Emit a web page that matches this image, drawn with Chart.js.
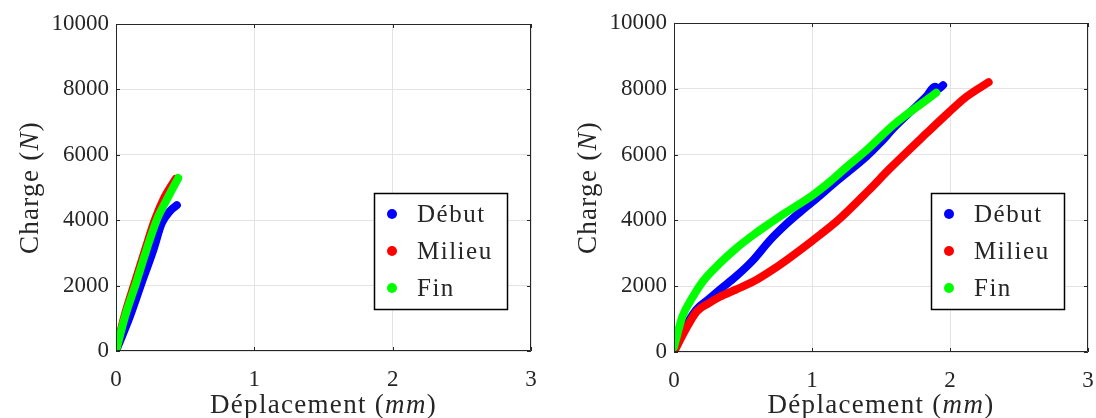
<!DOCTYPE html>
<html>
<head>
<meta charset="utf-8">
<script src="https://cdn.jsdelivr.net/npm/chart.js@4.4.0/dist/chart.umd.min.js"></script>
<style>
  body { margin: 0; background: #fff; }
  #wrap { position: relative; width: 1096px; height: 418px; }
  canvas { position: absolute; top: 0; }
</style>
</head>
<body>
<div id="wrap">
  <canvas id="gauche" width="548" height="418" style="left:0"></canvas>
  <canvas id="droite" width="548" height="418" style="left:548px"></canvas>
</div>
<script>
// --- données ---
const seriesNames = ['Début', 'Milieu', 'Fin'];
const seriesColors = ['#0000ff', '#ff0000', '#00ff00'];
const seriesOrder = [2, 1, 0]; // Fin dessinée au-dessus
const xTicks = [0, 1, 2, 3];
const yTicks = [0, 2000, 4000, 6000, 8000, 10000];

// essai de gauche
const debutX1  = [0, 0.10, 0.185, 0.27, 0.33, 0.39, 0.44];
const debutY1  = [0, 1050, 2080, 3090, 3900, 4280, 4460];
const milieuX1 = [0, 0.06, 0.135, 0.21, 0.28, 0.35, 0.43];
const milieuY1 = [0, 1050, 2080, 3090, 4000, 4700, 5260];
const finX1    = [0, 0.065, 0.145, 0.22, 0.294, 0.366, 0.45];
const finY1    = [0, 1050, 2080, 3090, 4000, 4620, 5290];

// essai de droite
const debutX2  = [0, 0.06, 0.164, 0.25, 0.333, 0.45, 0.575, 0.696, 0.817, 0.913, 1.002, 1.18, 1.396, 1.50, 1.59, 1.70, 1.83, 1.89, 1.92, 1.95];
const debutY2  = [50, 600, 1300, 1600, 1900, 2300, 2800, 3400, 3900, 4250, 4560, 5200, 5950, 6380, 6800, 7250, 7770, 8060, 8010, 8110];
const milieuX2 = [0, 0.08, 0.164, 0.25, 0.333, 0.45, 0.575, 0.696, 0.817, 1.002, 1.19, 1.408, 1.565, 1.83, 1.99, 2.12, 2.28];
const milieuY2 = [0, 650, 1230, 1480, 1680, 1900, 2140, 2450, 2800, 3380, 4010, 4900, 5580, 6650, 7280, 7760, 8200];
const finX2    = [0, 0.06, 0.14, 0.21, 0.333, 0.45, 0.575, 0.70, 0.817, 1.002, 1.13, 1.25, 1.396, 1.59, 1.83, 1.90];
const finY2    = [150, 1070, 1700, 2150, 2700, 3150, 3560, 3930, 4260, 4760, 5180, 5620, 6140, 6900, 7660, 7880];

const axisColor = '#262626';
const serif = '"Liberation Serif", "DejaVu Serif", serif';

function toPoints(xs, ys) {
  return xs.map((x, i) => ({ x: x, y: ys[i] }));
}

function makeDatasets(sets) {
  return sets.map((s, i) => ({
    label: seriesNames[i],
    data: toPoints(s[0], s[1]),
    order: seriesOrder[i],
    showLine: true,
    borderColor: seriesColors[i],
    backgroundColor: seriesColors[i],
    borderWidth: 8,
    borderCapStyle: 'round',
    borderJoinStyle: 'round',
    pointRadius: 0,
    cubicInterpolationMode: 'monotone'
  }));
}

function mixedText(c, parts, size) {
  let w = 0;
  parts.forEach(p => { c.font = p[1] + ' ' + size + 'px ' + serif; w += c.measureText(p[0]).width; });
  return w;
}

// titres, cadre, graduations intérieures et légende
const deco = {
  id: 'deco',
  afterDraw(chart) {
    const c = chart.ctx, a = chart.chartArea;
    const xs = chart.scales.x, ys = chart.scales.y;
    c.save();
    c.strokeStyle = axisColor;
    c.lineWidth = 1;
    c.beginPath();
    c.rect(a.left + 0.5, a.top + 0.5, a.right - a.left - 1, a.bottom - a.top - 1);
    c.stroke();
    c.beginPath();
    xTicks.forEach(v => {
      const p = Math.round(xs.getPixelForValue(v)) + 0.5;
      c.moveTo(p, a.bottom); c.lineTo(p, a.bottom - 4);
      c.moveTo(p, a.top); c.lineTo(p, a.top + 4);
    });
    yTicks.forEach(v => {
      const p = Math.round(ys.getPixelForValue(v)) + 0.5;
      c.moveTo(a.left, p); c.lineTo(a.left + 4, p);
      c.moveTo(a.right, p); c.lineTo(a.right - 4, p);
    });
    c.stroke();

    c.fillStyle = axisColor;
    c.textBaseline = 'alphabetic';
    c.letterSpacing = '1.3px';

    // titre de l'axe x
    const parts = [['Déplacement (', 'normal'], ['mm', 'italic'], [')', 'normal']];
    let w = mixedText(c, parts, 27);
    let x = (a.left + a.right) / 2 - w / 2;
    parts.forEach(p => {
      c.font = p[1] + ' 27px ' + serif;
      c.fillText(p[0], x, 413);
      x += c.measureText(p[0]).width;
    });

    // titre de l'axe y
    const yParts = [['Charge (', 'normal'], ['N', 'italic'], [')', 'normal']];
    c.translate(chart.options.plugins.deco.titleX, (a.top + a.bottom) / 2);
    c.rotate(-Math.PI / 2);
    w = mixedText(c, yParts, 27);
    x = -w / 2;
    yParts.forEach(p => {
      c.font = p[1] + ' 27px ' + serif;
      c.fillText(p[0], x, 0);
      x += c.measureText(p[0]).width;
    });
    c.setTransform(1, 0, 0, 1, 0, 0);

    // légende
    const bw = 133, bh = 116;
    const bx = a.right - 24 - bw, by = 193;
    c.fillStyle = '#ffffff';
    c.fillRect(bx, by, bw, bh);
    c.strokeStyle = '#000000';
    c.lineWidth = 1.5;
    c.strokeRect(bx + 0.5, by + 0.5, bw, bh);
    c.font = '25px ' + serif;
    c.letterSpacing = '1.5px';
    c.textBaseline = 'middle';
    seriesNames.forEach((n, i) => {
      const yy = by + 21 + i * 37;
      c.fillStyle = seriesColors[i];
      c.beginPath();
      c.arc(bx + 18, yy, 5, 0, Math.PI * 2);
      c.fill();
      c.fillStyle = axisColor;
      c.fillText(n, bx + 43, yy + 1);
    });
    c.restore();
  }
};

function makeChart(id, sets, lay) {
  return new Chart(document.getElementById(id).getContext('2d'), {
    type: 'scatter',
    data: { datasets: makeDatasets(sets) },
    options: {
      responsive: false,
      animation: false,
      layout: { padding: { top: lay.top, right: lay.right, left: 0, bottom: 0 } },
      scales: {
        x: {
          type: 'linear', min: 0, max: 3,
          afterBuildTicks: s => { s.ticks = xTicks.map(v => ({ value: v })); },
          ticks: { color: axisColor, font: { family: serif, size: 23 }, padding: 15, maxRotation: 0,
                   callback: v => String(v) },
          grid: { color: '#e3e3e3', drawTicks: false },
          border: { display: false },
          afterFit: s => { s.height = lay.xh; s.paddingLeft = 0; s.paddingRight = 0; }
        },
        y: {
          type: 'linear', min: 0, max: 10000,
          afterBuildTicks: s => { s.ticks = yTicks.map(v => ({ value: v })); },
          ticks: { color: axisColor, font: { family: serif, size: 23 }, padding: 7,
                   callback: v => String(v) },
          grid: { color: '#e3e3e3', drawTicks: false },
          border: { display: false },
          afterFit: s => { s.width = lay.yw; s.paddingTop = 0; s.paddingBottom = 0; }
        }
      },
      plugins: {
        legend: { display: false },
        tooltip: { enabled: false },
        deco: { titleX: lay.titleX }
      }
    },
    plugins: [deco]
  });
}

makeChart('gauche',
  [[debutX1, debutY1], [milieuX1, milieuY1], [finX1, finY1]],
  { top: 24, right: 17, xh: 67, yw: 116, titleX: 38 });
makeChart('droite',
  [[debutX2, debutY2], [milieuX2, milieuY2], [finX2, finY2]],
  { top: 23, right: 8, xh: 66, yw: 126, titleX: 48 });
</script>
</body>
</html>
